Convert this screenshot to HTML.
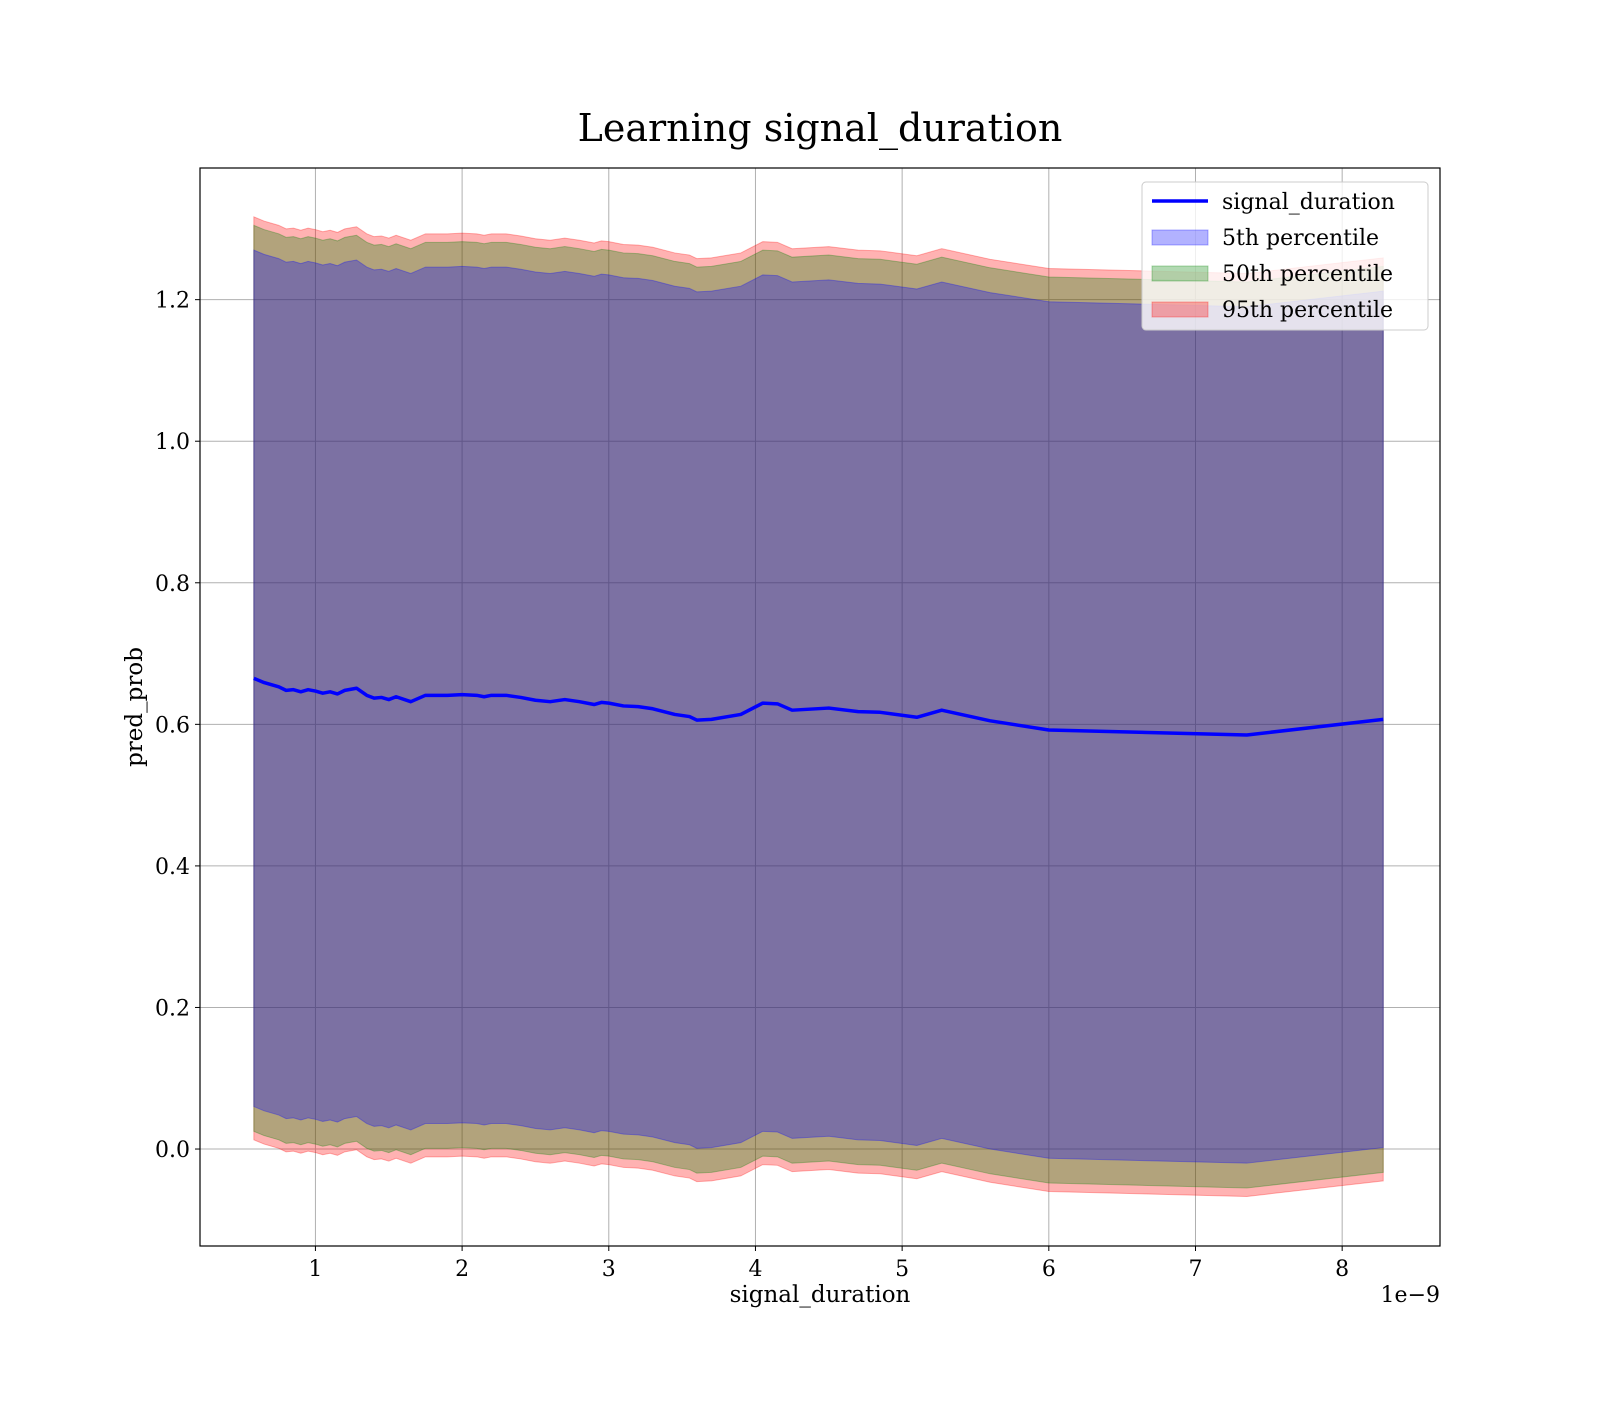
<!DOCTYPE html>
<html><head><meta charset="utf-8"><style>
html,body{margin:0;padding:0;background:#fff;}
svg text{font-family:"DejaVu Serif","Liberation Serif",serif;fill:#000;}
</style></head><body>
<svg id="chart" width="1600" height="1400" xmlns="http://www.w3.org/2000/svg">
<rect width="1600" height="1400" fill="#fff"/>
<text x="820" y="141" font-size="38" text-anchor="middle">Learning signal_duration</text>
<g id="grid"></g>
<g id="bands"></g>
<g id="series"></g>
<rect x="200" y="168" width="1240" height="1078" fill="none" stroke="#000" stroke-width="1.2"/>
<g id="ticks"></g>
<text x="820" y="1302" font-size="23" text-anchor="middle">signal_duration</text>
<text x="1440" y="1302" font-size="22" text-anchor="end">1e−9</text>
<text x="142" y="707" font-size="23" text-anchor="middle" transform="rotate(-90 142 707)">pred_prob</text>
<g>
<rect x="1142" y="182" width="286" height="148" rx="4" fill="#fff" fill-opacity="0.8" stroke="#ccc"/>
<line x1="1152" y1="201" x2="1208" y2="201" stroke="#0000ff" stroke-width="3.5"/>
<text x="1222" y="209" font-size="22">signal_duration</text>
<rect x="1152" y="230" width="56" height="15" fill="rgba(0,0,255,0.3)" stroke="rgba(0,0,255,0.3)"/>
<text x="1222" y="245" font-size="22">5th percentile</text>
<rect x="1152" y="266" width="56" height="15" fill="rgba(0,128,0,0.3)" stroke="rgba(0,128,0,0.3)"/>
<text x="1222" y="281" font-size="22">50th percentile</text>
<rect x="1152" y="302" width="56" height="15" fill="rgba(255,0,0,0.3)" stroke="rgba(255,0,0,0.3)"/>
<text x="1222" y="317" font-size="22">95th percentile</text>
</g>
</svg>
<script>
const xValues=[0.58,0.65,0.7,0.75,0.8,0.85,0.9,0.95,1.0,1.05,1.1,1.15,1.2,1.28,1.35,1.4,1.45,1.5,1.55,1.65,1.75,1.9,2.0,2.1,2.15,2.2,2.3,2.4,2.5,2.6,2.7,2.8,2.9,2.95,3.0,3.1,3.2,3.3,3.45,3.55,3.6,3.7,3.9,4.05,4.15,4.25,4.5,4.7,4.85,5.1,5.27,5.6,6.0,7.35,8.28];
const meanValues=[0.665,0.659,0.656,0.653,0.648,0.649,0.646,0.649,0.647,0.644,0.646,0.643,0.648,0.651,0.641,0.637,0.638,0.635,0.639,0.632,0.641,0.641,0.642,0.641,0.639,0.641,0.641,0.638,0.634,0.632,0.635,0.632,0.628,0.631,0.63,0.626,0.625,0.622,0.614,0.611,0.606,0.607,0.614,0.63,0.629,0.62,0.623,0.618,0.617,0.61,0.62,0.605,0.592,0.585,0.607];
const bandNames=["95th","50th","5th"];
const bandHalfWidths=[0.652,0.64,0.605];
const bandColors=["255,0,0","0,128,0","0,0,255"];
const xTicks=[1,2,3,4,5,6,7,8];
const yTicks=[0.0,0.2,0.4,0.6,0.8,1.0,1.2];
const X0=200,X1=1440,Y0=168,Y1=1246;
const xMin=0.213,xMax=8.667,yMin=-0.137,yMax=1.386;
const sx=v=>X0+(v-xMin)/(xMax-xMin)*(X1-X0);
const sy=v=>Y1-(v-yMin)/(yMax-yMin)*(Y1-Y0);
const NS="http://www.w3.org/2000/svg";
function mk(tag,attrs,parent){const e=document.createElementNS(NS,tag);for(const k in attrs)e.setAttribute(k,attrs[k]);parent.appendChild(e);return e;}
const grid=document.getElementById('grid'),ticks=document.getElementById('ticks');
xTicks.forEach(t=>{const x=sx(t);
 const g=mk('line',{x1:x,x2:x,y1:Y0,y2:Y1,stroke:'#b0b0b0','stroke-width':1},grid);
 
 
 const tk=mk('line',{x1:x,x2:x,y1:Y1,y2:Y1+5,stroke:'#000','stroke-width':1},ticks);
 
 
 const tx=mk('text',{x:x,y:Y1+30,'font-size':22,'text-anchor':'middle'},ticks);tx.textContent=t;
 
 
});
yTicks.forEach(t=>{const y=sy(t);
 const g=mk('line',{x1:X0,x2:X1,y1:y,y2:y,stroke:'#b0b0b0','stroke-width':1},grid);
 
 
 const tk=mk('line',{x1:X0-5,x2:X0,y1:y,y2:y,stroke:'#000','stroke-width':1},ticks);
 
 
 const tx=mk('text',{x:X0-10,y:y+8,'font-size':22,'text-anchor':'end'},ticks);tx.textContent=t.toFixed(1);
 
 
});
const bands=document.getElementById('bands');
bandNames.forEach((n,i)=>{
 const up=xValues.map((x,j)=>sx(x)+','+sy(meanValues[j]+bandHalfWidths[i]));
 const lo=xValues.map((x,j)=>sx(x)+','+sy(meanValues[j]-bandHalfWidths[i])).reverse();
 const p=mk('polygon',{points:up.concat(lo).join(' '),fill:'rgba('+bandColors[i]+',0.3)',stroke:'rgba('+bandColors[i]+',0.3)','stroke-width':1},bands);
 
 
});
const line=mk('polyline',{points:xValues.map((x,j)=>sx(x)+','+sy(meanValues[j])).join(' '),fill:'none',stroke:'#0000ff','stroke-width':3.5,'stroke-linejoin':'round'},document.getElementById('series'));


</script>
</body></html>
